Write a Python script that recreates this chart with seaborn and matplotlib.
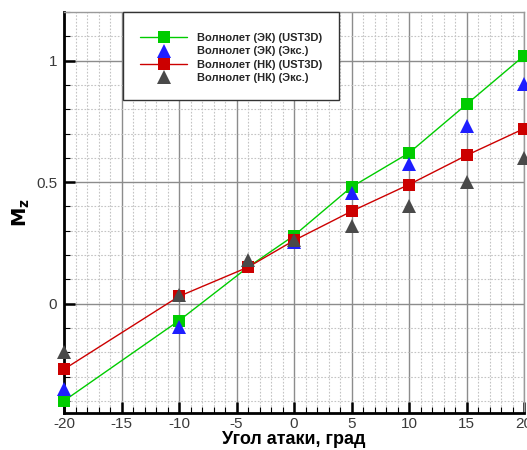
import matplotlib
matplotlib.use("Agg")
import matplotlib.pyplot as plt
from matplotlib.lines import Line2D
from matplotlib.ticker import MultipleLocator
import seaborn as sns
import pandas as pd

# Angle of attack, degrees
alpha_cfd = [-20, -10, -4, 0, 5, 10, 15, 20]
alpha_exp_ek = [-20, -10, 0, 5, 10, 15, 20]
alpha_exp_nk = [-20, -10, -4, 0, 5, 10, 15, 20]

# Pitching moment coefficient
mz_ek_cfd = [-0.40, -0.07, 0.15, 0.28, 0.48, 0.62, 0.82, 1.02]
mz_ek_exp = [-0.35, -0.097, 0.255, 0.455, 0.575, 0.73, 0.905]
mz_nk_cfd = [-0.27, 0.03, 0.15, 0.26, 0.38, 0.49, 0.61, 0.72]
mz_nk_exp = [-0.20, 0.035, 0.18, 0.26, 0.32, 0.40, 0.50, 0.60]

labels = ["Волнолет (ЭК) (UST3D)", "Волнолет (ЭК) (Экс.)",
          "Волнолет (НК) (UST3D)", "Волнолет (НК) (Экс.)"]

c_green = "#00cc00"
c_blue = "#1e1eff"
c_red = "#cc0000"
c_gray = "#4a4a4a"

sns.set_theme(style="white")
plt.rcParams["font.family"] = ["Liberation Sans", "DejaVu Sans"]

fig = plt.figure(figsize=(5.27, 4.5), dpi=100)
ax = fig.add_axes([64 / 527, 1 - 413 / 450, (524 - 64) / 527, (413 - 12) / 450])

df_ek = pd.DataFrame({"a": alpha_cfd, "m": mz_ek_cfd})
df_nk = pd.DataFrame({"a": alpha_cfd, "m": mz_nk_cfd})
df_ek_x = pd.DataFrame({"a": alpha_exp_ek, "m": mz_ek_exp})
df_nk_x = pd.DataFrame({"a": alpha_exp_nk, "m": mz_nk_exp})

ms = 9
sns.lineplot(data=df_ek, x="a", y="m", ax=ax, color=c_green, lw=1.0,
             marker="s", markersize=ms, markeredgewidth=0, clip_on=False,
             sort=False, zorder=3)
sns.lineplot(data=df_ek_x, x="a", y="m", ax=ax, color=c_blue, lw=0,
             marker="^", markersize=ms + 1, markeredgewidth=0, clip_on=False,
             sort=False, zorder=3)
sns.lineplot(data=df_nk, x="a", y="m", ax=ax, color=c_red, lw=1.0,
             marker="s", markersize=ms, markeredgewidth=0, clip_on=False,
             sort=False, zorder=3)
sns.lineplot(data=df_nk_x, x="a", y="m", ax=ax, color=c_gray, lw=0,
             marker="^", markersize=ms + 1, markeredgewidth=0, clip_on=False,
             sort=False, zorder=3)

ax.set_xlim(-20, 20)
ax.set_ylim(-0.45, 1.2)
ax.xaxis.set_major_locator(MultipleLocator(5))
ax.xaxis.set_minor_locator(MultipleLocator(1))
ax.yaxis.set_major_locator(MultipleLocator(0.5))
ax.yaxis.set_minor_locator(MultipleLocator(0.1))
ax.set_yticks([0, 0.5, 1])
ax.set_yticklabels(["0", "0.5", "1"])
ax.set_xticks(list(range(-20, 21, 5)))
ax.set_xticklabels([str(v) for v in range(-20, 21, 5)])

ax.grid(which="major", color="#8c8c8c", lw=1.0, ls="-", zorder=1)
ax.grid(which="minor", color="#c4c4c4", lw=0.8, ls=(0, (1.5, 1.5)), zorder=1)
ax.set_axisbelow(True)

ax.tick_params(which="major", direction="in", length=8, width=1.8,
               color="black", labelsize=11, labelcolor="#3a3a3a", pad=3)
ax.tick_params(which="minor", direction="in", length=4, width=0.8,
               color="black")
ax.tick_params(axis="x", which="both", top=False, bottom=True)
ax.tick_params(axis="y", which="both", left=True, right=False)
ax.tick_params(axis="y", which="major", pad=5)

for side in ("left", "bottom"):
    ax.spines[side].set_color("black")
    ax.spines[side].set_linewidth(2)
for side in ("top", "right"):
    ax.spines[side].set_color("#9a9a9a")
    ax.spines[side].set_linewidth(1)

ax.set_xlabel("Угол атаки, град", fontsize=13, fontweight="bold",
              color="black", labelpad=0)
ax.set_ylabel(r"$\mathbf{M_z}$", fontsize=14, color="black", labelpad=3)

handles = [
    Line2D([], [], color=c_green, lw=1.0, marker="s", markersize=ms,
           markeredgewidth=0),
    Line2D([], [], color=c_blue, lw=0, marker="^", markersize=ms + 1,
           markeredgewidth=0),
    Line2D([], [], color=c_red, lw=1.0, marker="s", markersize=ms,
           markeredgewidth=0),
    Line2D([], [], color=c_gray, lw=0, marker="^", markersize=ms + 1,
           markeredgewidth=0),
]
leg = ax.legend(handles, labels, loc="upper left",
                bbox_to_anchor=((123 - 64) / 460, 1.0),
                prop={"weight": "bold", "size": 8}, frameon=True,
                fancybox=False, framealpha=1, edgecolor="#333333",
                borderpad=1.55, labelspacing=0.28, handlelength=4.2,
                handletextpad=0.9, borderaxespad=0,
                title=" ", title_fontsize=1)
leg.get_frame().set_linewidth(1)
leg.set_zorder(5)

fig.savefig("out.png", dpi=100)
